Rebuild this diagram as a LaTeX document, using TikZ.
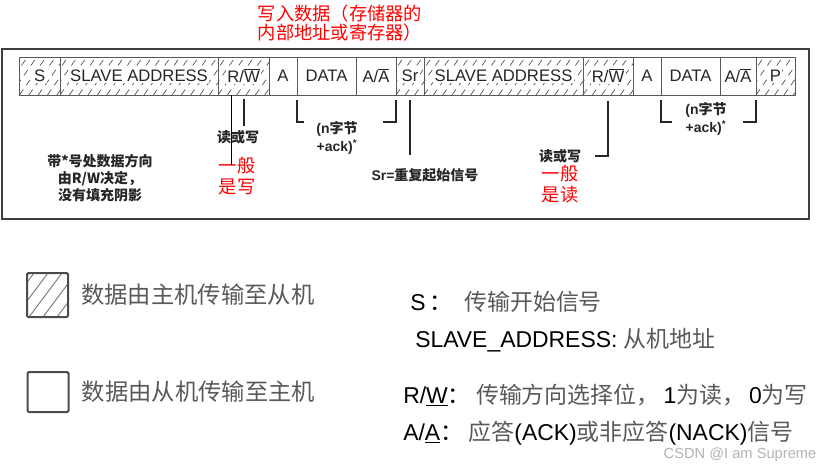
\documentclass[tikz,border=0pt]{standalone}
\usepackage{fontspec}
\setmainfont{Liberation Sans}
\newfontfamily\cjk{Noto Sans CJK SC}
\usetikzlibrary{positioning}
\newcommand\gzh[1]{{\cjk\color{black!65}#1}}

\begin{document}
\begin{tikzpicture}[
  x=0.75pt, y=-0.75pt,
  cell/.style={rectangle, draw=black!65, line width=0.75pt, minimum height=28.5pt, inner sep=0pt, outer sep=0pt, font=\fontsize{12.5}{14}\selectfont, text=black!85},
  hatched/.style={path picture={\foreach \k in {0,...,24} \draw[black!70, line width=0.5pt, dash pattern=on 5pt off 4pt] ([xshift=\k*7pt-21pt]path picture bounding box.south west) -- ++(20pt,28.5pt);}},
  tag/.style={fill=white, inner sep=1pt, font=\fontsize{12.5}{14}\selectfont, text=black!85},
  lead/.style={line width=1.5pt, black!85},
  note/.style={align=center, font=\cjk\bfseries\fontsize{10.5}{12.5}\selectfont, text=black!85},
  count/.style={align=center, font=\bfseries\fontsize{10.5}{13.5}\selectfont, text=black!85},
  remark/.style={align=center, text=red, inner sep=0pt, font=\cjk\fontsize{13.7}{15.5}\selectfont},
  keybox/.style={rectangle, rounded corners=1pt, draw=black!70, line width=1.5pt, minimum width=30.75pt},
  keyhatch/.style={path picture={\foreach \k in {0,...,5} \draw[black!60, line width=0.6pt] ([xshift=\k*10.5pt-30pt]path picture bounding box.south west) -- ++(30pt,40pt);}},
  keytext/.style={anchor=west, inner sep=0pt, font=\cjk\fontsize{17.5}{20}\selectfont, text=black!65},
  keyline/.style={anchor=west, inner sep=0pt, font=\fontsize{17.2}{20}\selectfont}
]
\useasboundingbox (0,0) rectangle (840,468);
\draw[black!75, line width=1.1pt] (2,49) rectangle (809,219);

\node[cell, hatched, minimum width=30.4pt, anchor=north west, label={[tag]center:S}] (s1) at (19.5,57) {};
\node[cell, hatched, minimum width=118.5pt, right=0pt of s1, label={[tag]center:SLAVE ADDRESS}] (addr1) {};
\node[cell, hatched, minimum width=38.25pt, right=0pt of addr1, label={[tag]center:R/$\overline{\mbox{W}}$}] (rw1) {};
\node[cell, minimum width=21pt, right=0pt of rw1] (a1) {A};
\node[cell, minimum width=44.25pt, right=0pt of a1] (data1) {DATA};
\node[cell, minimum width=30pt, right=0pt of data1] (aa1) {A/$\overline{\mbox{A}}$};
\node[cell, hatched, minimum width=21pt, right=0pt of aa1, label={[tag]center:Sr}] (sr) {};
\node[cell, hatched, minimum width=119.25pt, right=0pt of sr, label={[tag]center:SLAVE ADDRESS}] (addr2) {};
\node[cell, hatched, minimum width=37.5pt, right=0pt of addr2, label={[tag]center:R/$\overline{\mbox{W}}$}] (rw2) {};
\node[cell, minimum width=21pt, right=0pt of rw2] (a2) {A};
\node[cell, minimum width=44.25pt, right=0pt of a2] (data2) {DATA};
\node[cell, minimum width=27pt, right=0pt of data2] (aa2) {A/$\overline{\mbox{A}}$};
\node[cell, hatched, minimum width=29.25pt, right=0pt of aa2, label={[tag]center:P}] (p1) {};

\node[remark, font=\cjk\fontsize{13.7}{14.25}\selectfont] (wtitle) at (340,23) {写入数据（存储器的\\内部地址或寄存器）};
\node[note] (rwlbl1) at (238,137) {读或写};
\node[remark] (wred) at (237,176) {一般\\是写};
\node[count] (cnt1) at (337,138) {(n{\cjk 字节}\\+ack)\textsuperscript{*}};
\node[count] (srlbl) at (425,175) {Sr={\cjk 重复起始信号}};
\node[note] (rwlbl2) at (560,156) {读或写};
\node[remark] (rred) at (560,184) {一般\\是读};
\node[count] (cnt2) at (706,119) {(n{\cjk 字节}\\+ack)\textsuperscript{*}};
\node[note] (dirnote) at (100,178) {带*号处数据方向\\由R/W决定，\\没有填充阴影};

\coordinate (wend) at (231,165);
\coordinate (srend) at (409,155);
\draw[black, line width=0.75pt] (rw1.south -| wend) -- (wend);
\draw[lead] ([yshift=-3pt]rw1.south) -- (rw1.south |- rwlbl1.north);
\draw[lead] ([yshift=-3.75pt]data1.south west) -- ++(0,22) -- ++(7,0);
\draw[lead] ([yshift=-3.75pt]aa1.south east) -- ++(0,22) -- ++(-13,0);
\draw[lead] ([yshift=-3.75pt]sr.south) -- (sr.south |- srend);
\draw[lead] ([yshift=-4.5pt]rw2.south) |- ([xshift=7pt]rwlbl2.east);
\draw[lead] ([yshift=-3.75pt]data2.south west) -- ++(0,22) -- ++(11,0);
\draw[lead] ([yshift=-3.75pt]aa2.south east) -- ++(0,22) -- ++(-13,0);

\node[keybox, keyhatch, minimum height=33pt] (keym) at (47.5,295) {};
\node[keytext, right=9pt of keym] (keymtxt) {数据由主机传输至从机};
\node[keybox, minimum height=30pt] (keys) at (48,392) {};
\node[keytext, right=9pt of keys] (keystxt) {数据由从机传输至主机};

\node[keyline] (defs) at (410,302) {S\,{\cjk ：}\hspace{9pt}\gzh{传输开始信号}};
\node[keyline] (defaddr) at (415,340) {SLAVE\_ADDRESS: \gzh{从机地址}};
\node[keyline] (defrw) at (403,395) {R/\underline{W}{\cjk ：}\hspace{4pt}\gzh{传输方向选择位，}\hspace{3pt}1\gzh{为读，}\hspace{3pt}0\gzh{为写}};
\node[keyline] (defack) at (403,433) {A/\underline{A}{\cjk ：}\hspace{4pt}\gzh{应答}(ACK)\gzh{或非应答}(NACK)\gzh{信号}};

\node[text=black!30, font=\fontsize{11}{13}\selectfont] (mark) at (740,455) {CSDN @I am Supreme};
\end{tikzpicture}
\end{document}
